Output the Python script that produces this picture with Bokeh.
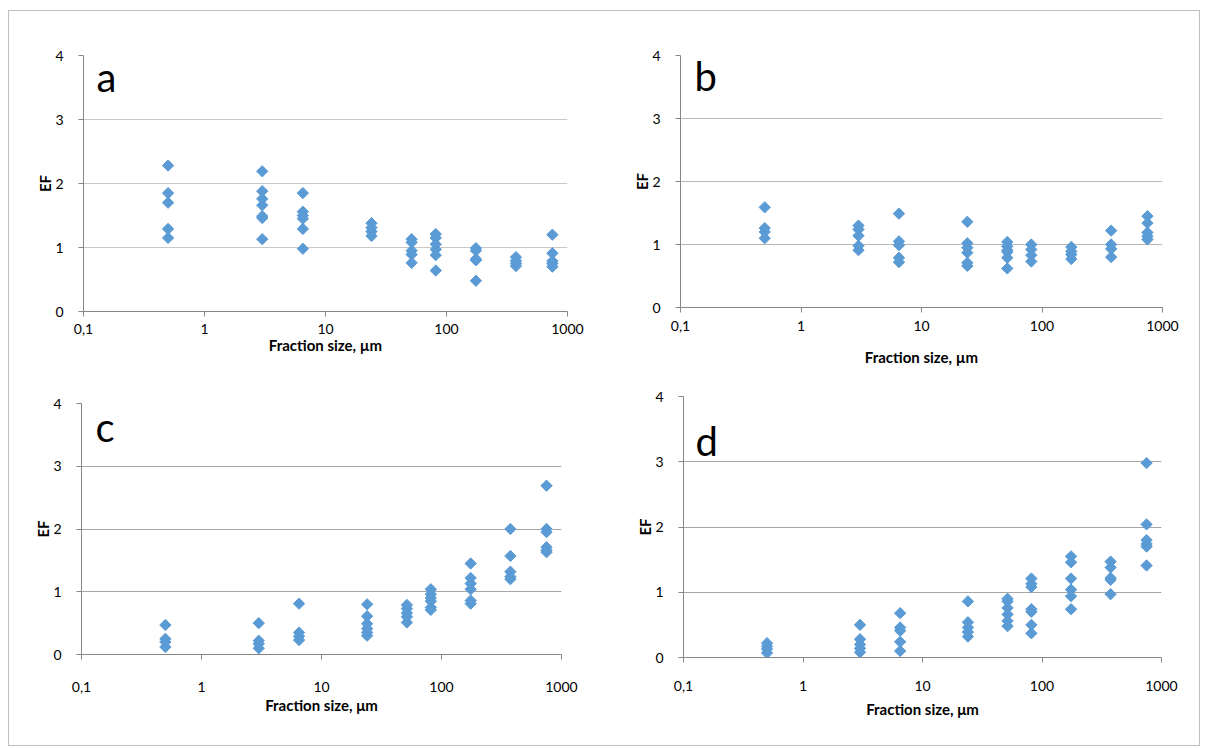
import numpy as np
from bokeh.plotting import figure
from bokeh.layouts import column, row
from bokeh.models import Range1d, FixedTicker, Label, ColumnDataSource
from bokeh.embed import file_html
from bokeh.resources import INLINE

# Fraction size classes (µm), one column of points per class
fraction_sizes = [0.5, 3, 6.5, 24, 51.5, 81.5, 175, 375, 750]

# Enrichment factor (EF) values read per fraction, panel a
ef_a = [
    [2.28, 1.85, 1.70, 1.29, 1.15],
    [2.19, 1.88, 1.76, 1.66, 1.49, 1.46, 1.13],
    [1.85, 1.56, 1.50, 1.45, 1.29, 0.98],
    [1.38, 1.31, 1.25, 1.18],
    [1.13, 1.08, 0.95, 0.89, 0.76],
    [1.21, 1.15, 1.05, 0.97, 0.88, 0.64],
    [0.99, 0.95, 0.82, 0.80, 0.48],
    [0.85, 0.79, 0.75, 0.71],
    [1.20, 0.91, 0.79, 0.75, 0.70],
]
# panel b
ef_b = [
    [1.59, 1.26, 1.20, 1.10],
    [1.30, 1.24, 1.14, 0.98, 0.91],
    [1.49, 1.05, 0.99, 0.79, 0.72],
    [1.36, 1.02, 0.95, 0.87, 0.71, 0.66],
    [1.04, 0.97, 0.91, 0.88, 0.79, 0.62],
    [1.00, 0.92, 0.83, 0.73],
    [0.96, 0.89, 0.84, 0.77],
    [1.22, 1.00, 0.93, 0.80],
    [1.45, 1.34, 1.19, 1.13, 1.08],
]
# panel c
ef_c = [
    [0.47, 0.25, 0.20, 0.12],
    [0.50, 0.22, 0.17, 0.10],
    [0.81, 0.35, 0.29, 0.23],
    [0.80, 0.61, 0.49, 0.41, 0.35, 0.30],
    [0.79, 0.73, 0.66, 0.60, 0.51],
    [1.04, 0.96, 0.90, 0.85, 0.75, 0.71],
    [1.45, 1.22, 1.13, 1.04, 0.86, 0.81],
    [2.00, 1.57, 1.32, 1.24, 1.20],
    [2.69, 2.00, 1.95, 1.71, 1.66, 1.63],
]
# panel d
ef_d = [
    [0.22, 0.17, 0.13, 0.07],
    [0.50, 0.28, 0.20, 0.14, 0.08],
    [0.68, 0.46, 0.41, 0.24, 0.10],
    [0.86, 0.54, 0.46, 0.39, 0.32],
    [0.90, 0.86, 0.76, 0.66, 0.56, 0.48],
    [1.21, 1.13, 1.08, 0.74, 0.70, 0.50, 0.37],
    [1.55, 1.46, 1.21, 1.04, 0.94, 0.74],
    [1.47, 1.38, 1.22, 1.19, 0.97],
    [2.98, 2.04, 1.80, 1.74, 1.70, 1.41],
]

x_ticks = [0.1, 1, 10, 100, 1000]
x_tick_labels = ["0,1", "1", "10", "100", "1000"]
y_ticks = [0, 1, 2, 3, 4]
x_titles = ["Fraction size, \u00b5m", "Fraction size, \u00b5m",
            "Fraction size, \u03bcm", "Fraction size, \u03bcm"]

FONT = "Lato"
MARKER = "#5B9BD5"


def make_panel(ef, letter, xtitle, width, height, left, right, top, bottom,
               grid_color, letter_x, letter_y, xlab_standoff, xtitle_standoff):
    xs, ys = [], []
    for fx, vals in zip(fraction_sizes, ef):
        for v in vals:
            xs.append(fx)
            ys.append(v)
    src = ColumnDataSource(dict(x=xs, y=ys))
    p = figure(width=width, height=height, x_axis_type="log",
               x_range=Range1d(0.1, 1000), y_range=Range1d(0, 4),
               output_backend="svg", toolbar_location=None,
               min_border_left=left, min_border_right=right,
               min_border_top=top, min_border_bottom=bottom)
    p.outline_line_color = None
    p.background_fill_color = "white"
    p.border_fill_color = "white"
    p.scatter("x", "y", source=src, marker="square", size=8, angle=np.pi / 4,
              fill_color=MARKER, line_color=MARKER)

    p.xaxis.ticker = FixedTicker(ticks=x_ticks)
    p.xaxis.major_label_overrides = {t: l for t, l in zip(x_ticks, x_tick_labels)}
    p.yaxis.ticker = FixedTicker(ticks=y_ticks)
    for ax in (p.xaxis, p.yaxis):
        ax.axis_line_color = "#868686"
        ax.major_tick_line_color = "#868686"
        ax.minor_tick_line_color = None
        ax.major_tick_out = 5
        ax.major_tick_in = 0
        ax.major_label_text_font = FONT
        ax.major_label_text_font_size = "14px"
        ax.major_label_text_color = "#000000"
        ax.axis_label_text_font = FONT
        ax.axis_label_text_font_style = "bold"
        ax.axis_label_text_font_size = "15px"
        ax.axis_label_text_color = "#000000"
    p.xaxis.axis_label = xtitle
    p.yaxis.axis_label = "EF"
    p.xaxis.major_label_standoff = xlab_standoff
    p.xaxis.axis_label_standoff = xtitle_standoff
    p.yaxis.major_label_standoff = 15
    p.yaxis.axis_label_standoff = -2

    p.xgrid.grid_line_color = None
    p.ygrid.ticker = FixedTicker(ticks=[1, 2, 3, 4])
    p.ygrid.grid_line_color = grid_color
    p.ygrid.grid_line_width = 1

    p.add_layout(Label(x=letter_x, y=letter_y, x_units="screen", y_units="screen",
                       text=letter, text_font=FONT, text_font_size="40px",
                       text_color="#000000", text_baseline="alphabetic"))
    return p


pa = make_panel(ef_a, "a", x_titles[0], 596, 360, 74, 38, 44, 60,
                "#c8c8c8", 13, 235, 7, -1)
pb = make_panel(ef_b, "b", x_titles[1], 594, 360, 75, 37, 44, 64,
                "#b8b8b8", 14, 232, 8, 14)
pc = make_panel(ef_c, "c", x_titles[2], 596, 374, 72, 44, 32, 91,
                "#a6a6a6", 14, 228, 22, 1)
pd = make_panel(ef_d, "d", x_titles[3], 594, 374, 78, 38, 25, 88,
                "#a6a6a6", 12, 217, 18, 6)

layout = column(row(column(pa), column(pb)), row(column(pc), column(pd)),
                styles={"border": "1px solid #c0c0c0", "margin-left": "8px",
                        "margin-top": "10px"})

open("out.html", "w").write(file_html(layout, INLINE))
